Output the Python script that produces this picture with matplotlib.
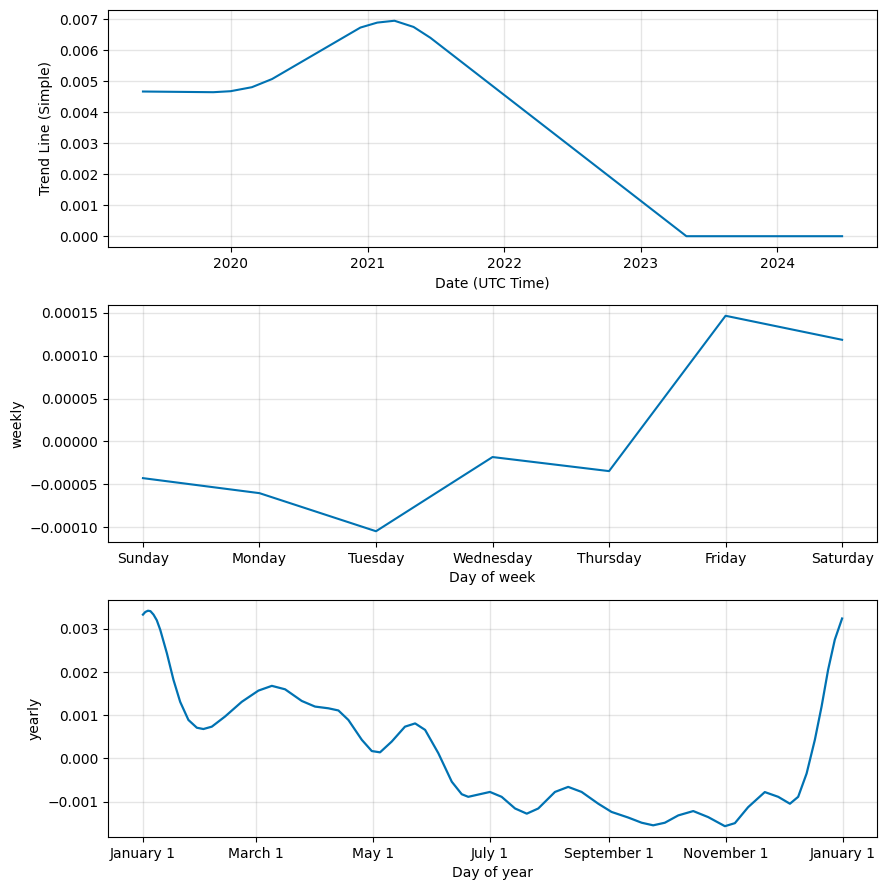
import numpy as np
import pandas as pd
import matplotlib
matplotlib.use("Agg")
import matplotlib.pyplot as plt
from matplotlib.dates import MonthLocator, num2date
from matplotlib.ticker import FuncFormatter

# ---- Trend data ----
trend_dates = ["2019-05-12", "2019-11-16", "2020-01-01", "2020-02-27", "2020-04-21",
               "2020-12-13", "2021-01-27", "2021-03-14", "2021-05-04", "2021-06-18",
               "2023-05-03", "2024-06-22"]
trend_values = [4.667e-3, 4.645e-3, 4.677e-3, 4.806e-3, 5.07e-3,
                6.73e-3, 6.89e-3, 6.95e-3, 6.75e-3, 6.40e-3,
                0.0, 0.0]

# ---- Weekly data ----
week_days = ["Sunday", "Monday", "Tuesday", "Wednesday", "Thursday", "Friday", "Saturday"]
weekly_values = [-4.28e-5, -6.03e-5, -1.047e-4, -1.82e-5, -3.46e-5, 1.465e-4, 1.185e-4]

# ---- Yearly data (day of year offset from Jan 1, value x1e-3) ----
yearly_days = [0, 1.2, 2.6, 3.9, 5.5, 7.2, 9.0, 12.5, 15.9, 19.4, 23.7, 28.1, 31.5, 35.9, 42.8, 51.5,
               60.2, 67.2, 74.1, 82.8, 89.7, 96.7, 101.9, 107.1, 114.1, 119.3, 123.6,
               129.7, 136.6, 141.9, 147.1, 154.0, 161.0, 166.2, 169.6, 173.1, 180.9,
               187.0, 194.0, 200.1, 206.1, 214.8, 221.7, 228.7, 237.4, 244.3, 253.0,
               260.0, 266.0, 272.1, 279.1, 286.9, 294.7, 303.4, 308.6, 315.5, 324.2,
               331.2, 337.3, 341.6, 346.0, 350.3, 353.8, 357.2, 360.7, 364.5]
yearly_values_e3 = [3.33, 3.39, 3.42, 3.41, 3.33, 3.20, 2.98, 2.43, 1.82, 1.31, 0.89, 0.71, 0.68, 0.735, 0.97, 1.31,
                    1.57, 1.68, 1.60, 1.33, 1.20, 1.16, 1.11, 0.89, 0.43, 0.17, 0.14,
                    0.39, 0.735, 0.81, 0.66, 0.12, -0.54, -0.83, -0.89, -0.855, -0.777,
                    -0.89, -1.16, -1.28, -1.16, -0.777, -0.66, -0.777, -1.05, -1.24, -1.37,
                    -1.49, -1.55, -1.49, -1.32, -1.22, -1.36, -1.57, -1.50, -1.13, -0.78,
                    -0.89, -1.05, -0.89, -0.35, 0.43, 1.20, 2.05, 2.75, 3.24]

color = "#0072B2"
fig = plt.figure(figsize=(8.86, 8.90), dpi=100)

L, W, H = 0.1219, 0.868, 0.2663
ax1 = fig.add_axes([L, 0.7225, W, H])
ax2 = fig.add_axes([L, 0.391, W, H])
ax3 = fig.add_axes([L, 0.0596, W, H])

def style(ax):
    ax.grid(True, which="major", c="gray", ls="-", lw=1, alpha=0.2)

# Trend
td = pd.to_datetime(trend_dates)
ax1.plot(td, trend_values, ls="-", c=color, lw=1.5)
ax1.set_xlabel("Date (UTC Time)")
ax1.set_ylabel("Trend Line (Simple)")
style(ax1)

# Weekly
ax2.plot(range(len(week_days)), weekly_values, ls="-", c=color, lw=1.5)
ax2.set_xticks(range(len(week_days)))
ax2.set_xticklabels(week_days)
ax2.set_xlabel("Day of week")
ax2.set_ylabel("weekly")
style(ax2)

# Yearly
yd = pd.Timestamp("2017-01-01") + pd.to_timedelta(yearly_days, unit="D")
ax3.plot(yd, np.array(yearly_values_e3) * 1e-3, ls="-", c=color, lw=1.6,
         solid_joinstyle="round")
ax3.xaxis.set_major_locator(MonthLocator(range(1, 13), bymonthday=1, interval=2))
ax3.xaxis.set_major_formatter(FuncFormatter(
    lambda x, pos=None: "{dt:%B} {dt.day}".format(dt=num2date(x))))
ax3.set_xlabel("Day of year")
ax3.set_ylabel("yearly")
style(ax3)

fig.savefig("out.png", dpi=100)
